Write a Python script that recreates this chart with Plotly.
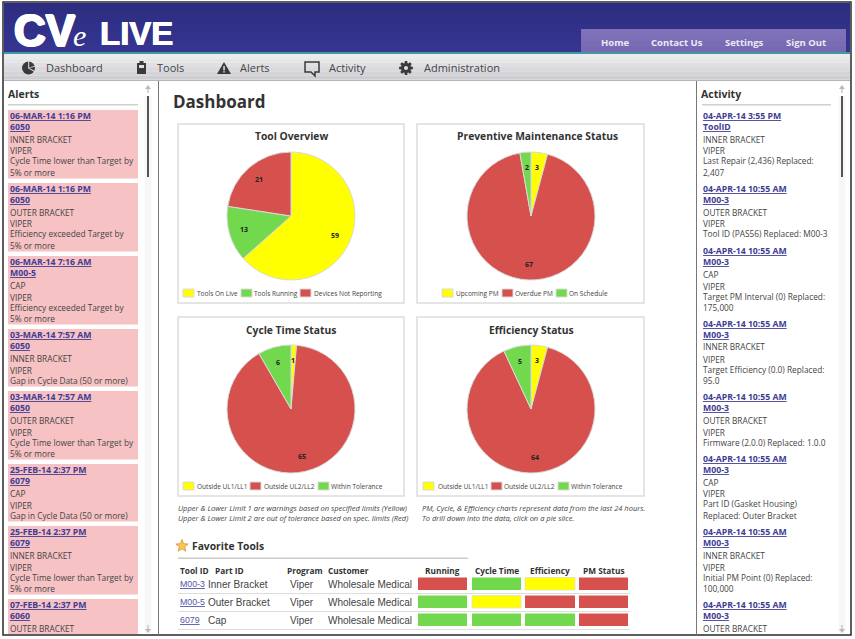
import math
import plotly.graph_objects as go

W = 855
H = 639

YELLOW = "#FFFF00"
RED = "#D6504E"
GREEN = "#72D84E"
LINK = "#3E3C93"
TEXT = "#444444"
SANS = "Open Sans"

tool_labels = ["Tools On Live", "Tools Running", "Devices Not Reporting"]
tool_values = [59, 13, 21]
pm_labels = ["Upcoming PM", "Overdue PM", "On Schedule"]
pm_values = [3, 67, 2]
limit_labels = ["Outside UL1/LL1", "Outside UL2/LL2", "Within Tolerance"]
cycle_values = [1, 65, 6]
efficiency_values = [3, 64, 5]

alerts = [
    ("06-MAR-14 1:16 PM", "6050", "INNER BRACKET", ["Cycle Time lower than Target by", "5% or more"]),
    ("06-MAR-14 1:16 PM", "6050", "OUTER BRACKET", ["Efficiency exceeded Target by", "5% or more"]),
    ("06-MAR-14 7:16 AM", "M00-5", "CAP", ["Efficiency exceeded Target by", "5% or more"]),
    ("03-MAR-14 7:57 AM", "6050", "INNER BRACKET", ["Gap in Cycle Data (50 or more)"]),
    ("03-MAR-14 7:57 AM", "6050", "OUTER BRACKET", ["Cycle Time lower than Target by", "5% or more"]),
    ("25-FEB-14 2:37 PM", "6079", "CAP", ["Gap in Cycle Data (50 or more)"]),
    ("25-FEB-14 2:37 PM", "6079", "INNER BRACKET", ["Cycle Time lower than Target by", "5% or more"]),
    ("07-FEB-14 2:37 PM", "6060", "OUTER BRACKET", []),
]
activity = [
    ("04-APR-14 3:55 PM", "ToolID", "INNER BRACKET", ["Last Repair (2,436) Replaced:", "2,407"]),
    ("04-APR-14 10:55 AM", "M00-3", "OUTER BRACKET", ["Tool ID (PAS56) Replaced: M00-3"]),
    ("04-APR-14 10:55 AM", "M00-3", "CAP", ["Target PM Interval (0) Replaced:", "175,000"]),
    ("04-APR-14 10:55 AM", "M00-3", "INNER BRACKET", ["Target Efficiency (0.0) Replaced:", "95.0"]),
    ("04-APR-14 10:55 AM", "M00-3", "OUTER BRACKET", ["Firmware (2.0.0) Replaced: 1.0.0"]),
    ("04-APR-14 10:55 AM", "M00-3", "CAP", ["Part ID (Gasket Housing)", "Replaced: Outer Bracket"]),
    ("04-APR-14 10:55 AM", "M00-3", "INNER BRACKET", ["Initial PM Point (0) Replaced:", "100,000"]),
    ("04-APR-14 10:55 AM", "M00-3", "OUTER BRACKET", []),
]

fav_ids = ["M00-3", "M00-5", "6079"]
fav_parts = ["Inner Bracket", "Outer Bracket", "Cap"]
fav_programs = ["Viper", "Viper", "Viper"]
fav_customers = ["Wholesale Medical", "Wholesale Medical", "Wholesale Medical"]
fav_headers = ["Running", "Cycle Time", "Efficiency", "PM Status"]
fav_status = [
    [RED, GREEN, YELLOW, RED],
    [GREEN, YELLOW, RED, RED],
    [GREEN, GREEN, GREEN, RED],
]

shapes = []
notes = []


def px(x):
    return x / W


def py(y):
    return 1 - y / H


def rect(x0, y0, x1, y1, fill, line=None, lw=1):
    shapes.append(dict(type="rect", xref="paper", yref="paper", layer="below",
                       x0=px(x0), x1=px(x1), y0=py(y0), y1=py(y1), fillcolor=fill,
                       line=dict(color=line or fill, width=lw if line else 0)))


def poly(points, fill, line=None, lw=0):
    path = "M " + " L ".join(f"{px(a):.5f},{py(b):.5f}" for a, b in points) + " Z"
    shapes.append(dict(type="path", xref="paper", yref="paper", layer="below", path=path,
                       fillcolor=fill, line=dict(color=line or fill, width=lw)))


def dot(cx, cy, r, fill):
    shapes.append(dict(type="circle", xref="paper", yref="paper", layer="below", x0=px(cx - r), x1=px(cx + r),
                       y0=py(cy + r), y1=py(cy - r), fillcolor=fill, line=dict(width=0)))


def label(x, y, s, size=8.5, color=TEXT, anchor="left", family=SANS, shadow="none"):
    notes.append(dict(xref="paper", yref="paper", x=px(x), y=py(y), text=s, showarrow=False,
                      xanchor=anchor, yanchor="middle", borderpad=0, borderwidth=0,
                      font=dict(family=family, size=size, color=color, shadow=shadow)))


# page frame and header
rect(3, 2, 851, 635, "#FFFFFF", "#2A2A2A", 1.5)
header_bands = ["#2D2D82", "#2F2F86", "#31318A", "#33338D", "#353590"]
for i, c in enumerate(header_bands):
    rect(4, 3 + i * 10, 850, 13 + i * 10, c)
rect(4, 52, 850, 54, "#3F9AA0")
tab_bands = ["#7F72B9", "#7C6FB6", "#7A6CB4", "#7769B1"]
for i, c in enumerate(tab_bands):
    rect(581, 29 + i * 6, 846, 35 + i * 6 - (1 if i == 3 else 0), c)
nav_bands = ["#EBEBEE", "#E6E6E9", "#E0E0E4", "#DADADE", "#D4D4D8", "#CECED2"]
for i, c in enumerate(nav_bands):
    rect(4, 54 + i * 4.3, 850, 54 + (i + 1) * 4.3, c)
rect(4, 80, 850, 81, "#B5B5B8")

# logo
thick = "1px 0 0 #fff, -1px 0 0 #fff, 0 1px 0 #fff, 0 -1px 0 #fff, 1px 1px 0 #fff, -1px -1px 0 #fff"
label(14, 30, "<b>CV</b>", 44, "#FFFFFF", family="Liberation Sans", shadow=thick)
label(73, 35, "<i>e</i>", 30, "#FFFFFF", family="Liberation Serif")
label(100, 34, "<b>LIVE</b>", 33, "#FFFFFF", family="Liberation Sans", shadow="0.5px 0 0 #fff, -0.5px 0 0 #fff")

for x, s in zip([615, 677, 744, 806], ["Home", "Contact Us", "Settings", "Sign Out"]):
    label(x, 42, f"<b>{s}</b>", 9.5, "#EDEAF6", "center")

# nav bar
for x, s in zip([46, 157, 240, 329, 424], ["Dashboard", "Tools", "Alerts", "Activity", "Administration"]):
    label(x, 68, s, 11, "#444444")
ICON = "#3A3A3A"
NAV = "#E0E0E4"
dot(28.5, 68, 6.5, ICON)
poly([(28.2, 68.2), (28.2, 60.5), (29.2, 60.5), (29.2, 67.4), (36, 65.5), (36.3, 66.5)], NAV)
poly([(28.5, 67.8), (36, 71.5), (35.5, 72.4), (28.2, 68.6)], NAV)
rect(137, 63, 146, 74, ICON)
rect(139.5, 61, 143.5, 63.5, ICON)
rect(139, 65, 144, 68, NAV)
poly([(224, 62), (231, 74), (217, 74)], ICON)
rect(223.3, 66, 224.8, 70.5, NAV)
rect(223.3, 71.2, 224.8, 72.6, NAV)
poly([(305, 62), (319, 62), (319, 72), (315, 72), (315, 76), (311, 72), (305, 72)], "rgba(0,0,0,0)", ICON, 1.5)
gear = []
for i in range(8):
    a = i * math.pi / 4
    for da, r in [(-0.3, 5), (-0.18, 7), (0.18, 7), (0.3, 5)]:
        gear.append((406 + r * math.sin(a + da), 68 - r * math.cos(a + da)))
poly(gear, ICON)
dot(406, 68, 2, NAV)

# side panels
rect(158, 81, 159, 635, "#777777")
rect(696, 81, 697, 635, "#777777")
label(8, 94, "<b>Alerts</b>", 10.5, "#333333")
label(701, 94, "<b>Activity</b>", 10.5, "#333333")
rect(8, 104, 138, 105.5, "#CFCFCF")
rect(702, 104, 831, 105.5, "#CFCFCF")


def scroll(x):
    rect(x - 3.5, 96, x + 3.5, 633, "#F7F7F7")
    rect(x - 1, 96, x + 1, 177, "#555555")
    poly([(x, 85), (x + 3, 89), (x + 0.6, 89), (x + 0.6, 93), (x - 0.6, 93), (x - 0.6, 89), (x - 3, 89)], "#BBBBBB")
    poly([(x, 633), (x + 3, 629), (x + 0.6, 629), (x + 0.6, 625), (x - 0.6, 625), (x - 0.6, 629), (x - 3, 629)], "#BBBBBB")


scroll(148)
scroll(842)


def feed(items, x, top, card):
    y = top
    for date, tool, part, lines in items:
        h = 46.5 + 11 * len(lines)
        if card:
            rect(8, y, 138, min(y + h, 634), "#F6C2C4")
        label(x, y + 6, f"<b><u>{date}</u></b>", 8.7, LINK)
        label(x, y + 17, f"<b><u>{tool}</u></b>", 8.7, LINK)
        label(x, y + 29, part, 8.3)
        if lines:
            label(x, y + 41, "VIPER", 8.3)
        for i, s in enumerate(lines):
            label(x, y + 51 + 11.5 * i, s, 8.3)
        y += h + 4.5


feed(alerts, 9.5, 110, True)
feed(activity, 703, 110, False)

label(173, 102, "<b>Dashboard</b>", 17, "#333333")

# pie panels
panels = [
    (178, 124, 404, 303, 291, 216, 291, "Tool Overview", tool_labels, tool_values,
     [YELLOW, GREEN, RED], [183, 241, 300], [197, 254, 314]),
    (417, 124, 644, 303, 531, 216, 537, "Preventive Maintenance Status", pm_labels, pm_values,
     [YELLOW, RED, GREEN], [442, 502, 556], [456, 515, 569]),
    (178, 317, 404, 496, 291, 409, 291, "Cycle Time Status", limit_labels, cycle_values,
     [YELLOW, RED, GREEN], [183, 250, 318], [197, 264, 331]),
    (417, 317, 644, 496, 531, 409, 531, "Efficiency Status", limit_labels, efficiency_values,
     [YELLOW, RED, GREEN], [423, 491, 558], [438, 504, 571]),
]
R = 64
fig = go.Figure()
for x0, y0, x1, y1, cx, cy, title_x, title, labels, values, colors, swatch_x, text_x in panels:
    rect(x0, y0, x1, y1, "#FFFFFF", "#DDDDDD", 1.5)
    label(title_x, y0 + 12.5, f"<b>{title}</b>", 10.3, "#333333", "center")
    fig.add_trace(go.Pie(
        labels=labels, values=values, sort=False, direction="clockwise", rotation=0,
        textinfo="none", hoverinfo="skip", showlegend=False,
        marker=dict(colors=colors, line=dict(color="#DADADA", width=1)),
        domain=dict(x=[px(cx - R), px(cx + R)], y=[py(cy + R), py(cy - R)]),
    ))
    total = sum(values)
    run = 0
    for v in values:
        mid = (run + v / 2) / total * 2 * math.pi
        run += v
        label(cx + 0.76 * R * math.sin(mid), cy - 0.76 * R * math.cos(mid), f"<b>{v}</b>", 7, "#222222", "center")
    for sx, tx, s, c in zip(swatch_x, text_x, labels, colors):
        rect(sx, y1 - 14, sx + 11, y1 - 6, c, "#DADADA", 1)
        label(tx, y1 - 10, s, 6.55, "#444444")

label(178, 508, "<i>Upper &amp; Lower Limit 1 are warnings based on specified limits (Yellow)</i>", 7.5)
label(178, 518, "<i>Upper &amp; Lower Limit 2 are out of tolerance based on spec. limits (Red)</i>", 7.5)
label(422, 508, "<i>PM, Cycle, &amp; Efficiency charts represent data from the last 24 hours.</i>", 7.5)
label(422, 518, "<i>To drill down into the data, click on a pie slice.</i>", 7.5)

# favorite tools table
star = []
for i in range(10):
    r = 6.5 if i % 2 == 0 else 2.8
    a = i * math.pi / 5
    star.append((182 + r * math.sin(a), 546 - r * math.cos(a)))
poly(star, "#F7C65A", "#D9962C", 0.8)
label(192, 546, "<b>Favorite Tools</b>", 10.3, "#333333")
rect(178, 557.5, 468, 559, "#CCCCCC")

for x, s in zip([180, 214.5, 287, 328], ["Tool ID", "Part ID", "Program", "Customer"]):
    label(x, 570, f"<b>{s}</b>", 8.3, "#333333")
cell_x = [(418, 467), (472, 521), (525, 575), (579, 628)]
for (a, b), s in zip(cell_x, fav_headers):
    label((a + b) / 2, 570, f"<b>{s}</b>", 8.3, "#333333", "center")

row_y = [584, 602, 620]
for i, y in enumerate(row_y):
    label(180, y, f"<u>{fav_ids[i]}</u>", 8.8, "#5555A8", family="Liberation Sans")
    label(208, y, fav_parts[i], 10, "#444444", family="Liberation Sans")
    label(302, y, fav_programs[i], 10, "#444444", "center", "Liberation Sans")
    label(328, y, fav_customers[i], 10, "#444444", family="Liberation Sans")
    for (a, b), c in zip(cell_x, fav_status[i]):
        rect(a, y - 6.5, b, y + 6, c, "#E0E0C0" if c == YELLOW else None, 0.8)
    rect(178, y + 9, 630, y + 10, "#DDDDDD")

fig.update_layout(
    width=W, height=H, margin=dict(l=0, r=0, t=0, b=0),
    paper_bgcolor="#FFFFFF", plot_bgcolor="#FFFFFF",
    showlegend=False, shapes=shapes, annotations=notes,
)
fig.write_html("out.html", post_script="document.body.style.margin='0';",
               config={"displayModeBar": False})
